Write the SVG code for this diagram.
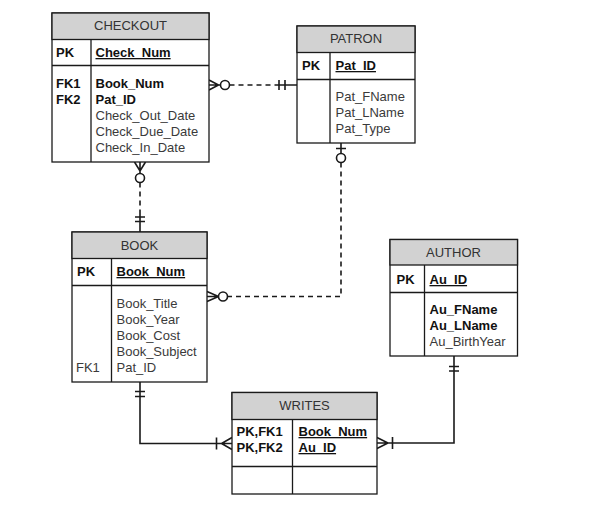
<svg xmlns="http://www.w3.org/2000/svg" width="592" height="517" viewBox="0 0 592 517">
<style>
.box{fill:#fff;stroke:#1a1a1a;stroke-width:1.3}
.hdr{fill:#d2d2d2;stroke:#1a1a1a;stroke-width:1.3}
.ln{stroke:#1a1a1a;stroke-width:1.3;fill:none}
text{font-family:"Liberation Sans",Arial,sans-serif;font-size:13px;fill:#3a3a3a}
.t{text-anchor:middle;fill:#333}
.b{font-weight:bold;fill:#111}
.u{text-decoration:underline}
.c{stroke:#1a1a1a;stroke-width:1.6;fill:none}
.d{stroke:#1a1a1a;stroke-width:1.6;fill:none;stroke-dasharray:5 4}
.o{stroke:#1a1a1a;stroke-width:1.6;fill:#fff}
</style>
<rect width="592" height="517" fill="#fff"/>
<g id="connectors">
  <!-- CHECKOUT - PATRON -->
  <path class="d" d="M229.5,85 H279"/>
  <path class="c" d="M279,85 H297 M279,80 V90 M285,80 V90"/>
  <path class="c" d="M209,80 L218.5,85 L209,90 M209,85 H220.5"/>
  <circle class="o" cx="225" cy="85" r="4.5"/>
  <!-- CHECKOUT - BOOK -->
  <path class="d" d="M140,182.5 V214"/>
  <path class="c" d="M140,214 V232 M135,217 H145 M135,221.5 H145"/>
  <path class="c" d="M134.5,162 L140,171 L145.5,162 M140,162 V173.5"/>
  <circle class="o" cx="140" cy="178" r="4.5"/>
  <!-- PATRON - BOOK -->
  <path class="c" d="M341,143 V153.5 M336,148.5 H346"/>
  <circle class="o" cx="341" cy="158" r="4.5"/>
  <path class="d" d="M341,162.5 V296.5 H227.5"/>
  <path class="c" d="M207,291.5 L218.5,296.5 L207,301.5 M207,296.5 H218.5"/>
  <circle class="o" cx="223" cy="296.5" r="4.5"/>
  <!-- BOOK - WRITES -->
  <path class="c" d="M140,382 V443.5 H232 M135,391.5 H145 M135,396.5 H145 M216.5,437.5 V449.5 M232,437.5 L221.5,443.5 L232,449.5"/>
  <!-- AUTHOR - WRITES -->
  <path class="c" d="M454,356 V443 H377 M449,366.5 H459 M449,371 H459 M392.5,437 V449 M377,437.5 L388,443 L377,448.5"/>
</g>
<g id="checkout">
  <rect class="box" x="52" y="13" width="157" height="149"/>
  <rect class="hdr" x="52" y="13" width="157" height="26.5"/>
  <path class="ln" d="M52,65.5 H209 M91,39.5 V162"/>
  <text class="t" x="130.5" y="30">CHECKOUT</text>
  <text class="b" x="56" y="57">PK</text>
  <text class="b u" x="95.5" y="57">Check_Num</text>
  <text class="b" x="56" y="88">FK1</text>
  <text class="b" x="56" y="104">FK2</text>
  <text class="b" x="95.5" y="88">Book_Num</text>
  <text class="b" x="95.5" y="104">Pat_ID</text>
  <text x="95.5" y="120">Check_Out_Date</text>
  <text x="95.5" y="136">Check_Due_Date</text>
  <text x="95.5" y="152">Check_In_Date</text>
</g>
<g id="patron">
  <rect class="box" x="297" y="26" width="118" height="117"/>
  <rect class="hdr" x="297" y="26" width="118" height="26.5"/>
  <path class="ln" d="M297,79.5 H415 M330,52.5 V143"/>
  <text class="t" x="356" y="43">PATRON</text>
  <text class="b" x="302" y="70">PK</text>
  <text class="b u" x="335.5" y="70">Pat_ID</text>
  <text x="335.5" y="101">Pat_FName</text>
  <text x="335.5" y="117">Pat_LName</text>
  <text x="335.5" y="133">Pat_Type</text>
</g>
<g id="book">
  <rect class="box" x="72" y="232" width="135" height="150"/>
  <rect class="hdr" x="72" y="232" width="135" height="26.5"/>
  <path class="ln" d="M72,285.5 H207 M111.5,258.5 V382"/>
  <text class="t" x="139.5" y="250">BOOK</text>
  <text class="b" x="77" y="276">PK</text>
  <text class="b u" x="116.5" y="276">Book_Num</text>
  <text x="116.5" y="308">Book_Title</text>
  <text x="116.5" y="324">Book_Year</text>
  <text x="116.5" y="340">Book_Cost</text>
  <text x="116.5" y="356">Book_Subject</text>
  <text x="116.5" y="372">Pat_ID</text>
  <text x="76" y="372">FK1</text>
</g>
<g id="author">
  <rect class="box" x="390" y="239.5" width="127.5" height="116.5"/>
  <rect class="hdr" x="390" y="239.5" width="127.5" height="25.5"/>
  <path class="ln" d="M390,292.5 H517.5 M424.5,265 V356"/>
  <text class="t" x="453.5" y="256.5">AUTHOR</text>
  <text class="b" x="396.5" y="284">PK</text>
  <text class="b u" x="429.5" y="284">Au_ID</text>
  <text class="b" x="429.5" y="314">Au_FName</text>
  <text class="b" x="429.5" y="330">Au_LName</text>
  <text x="429.5" y="346">Au_BirthYear</text>
</g>
<g id="writes">
  <rect class="box" x="232" y="392.5" width="145" height="101.5"/>
  <rect class="hdr" x="232" y="392.5" width="145" height="27"/>
  <path class="ln" d="M232,466.5 H377 M292.5,419.5 V494"/>
  <text class="t" x="304.5" y="410">WRITES</text>
  <text class="b" x="236.5" y="436">PK,FK1</text>
  <text class="b" x="236.5" y="452">PK,FK2</text>
  <text class="b u" x="298.5" y="436">Book_Num</text>
  <text class="b u" x="298.5" y="452">Au_ID</text>
</g>
</svg>
